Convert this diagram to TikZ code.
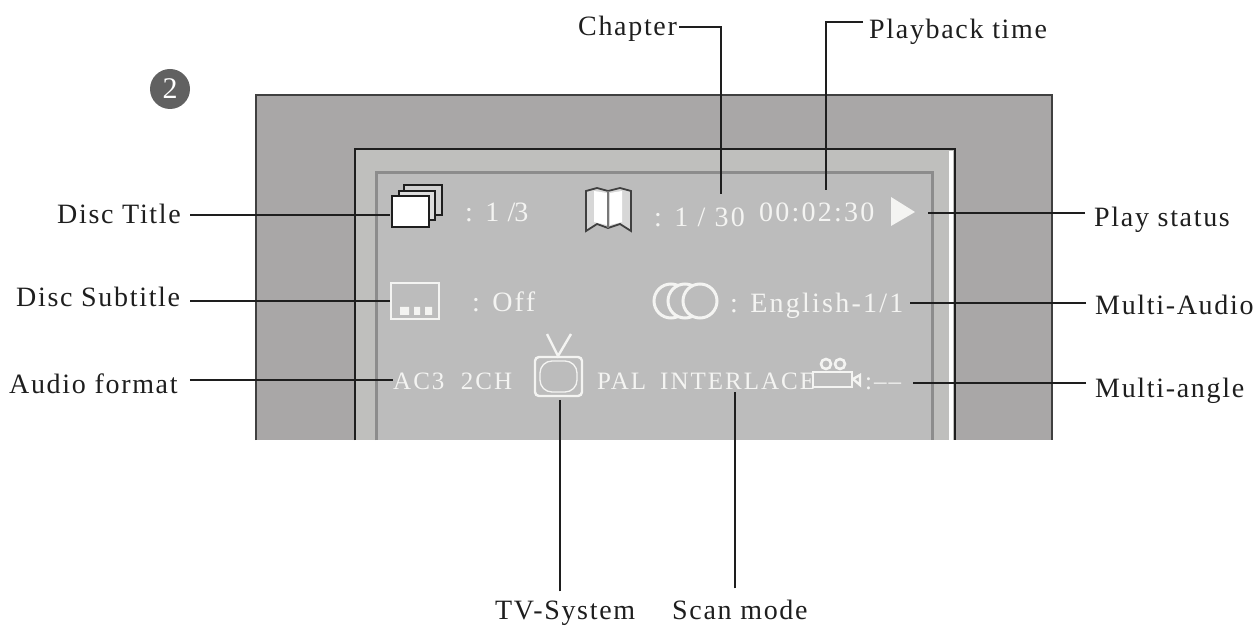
\documentclass[tikz,border=0pt]{standalone}
\usepackage{fontspec}
\setmainfont[LetterSpace=6]{Liberation Serif}
\newfontfamily\valfont[LetterSpace=8]{Liberation Serif}
\usetikzlibrary{calc}
\definecolor{frameg}{HTML}{A9A7A7}
\definecolor{screeng}{HTML}{BCBCBC}
\definecolor{ringg}{HTML}{BFBFBD}
\definecolor{lineg}{HTML}{8C8C8C}
\definecolor{ink}{HTML}{1E1E1E}
\definecolor{soft}{HTML}{F4F4F2}
\tikzset{
  lab/.style={anchor=base west,inner xsep=6pt,inner ysep=0pt,text=ink,font=\fontsize{28}{30}\selectfont},
  val/.style={anchor=base west,inner sep=0pt,text=soft,font=\valfont\fontsize{28}{30}\selectfont},
  valsmall/.style={val,font=\valfont\fontsize{25}{27}\selectfont},
  conn/.style={draw=ink,line width=1.8pt},
  icon/.style={draw=soft,line width=2.4pt},
  stack/.style={draw=ink,line width=1.9pt}
}
\begin{document}
\begin{tikzpicture}[x=1pt,y=-1pt]
\useasboundingbox (0,0) rectangle (1259,628);
% housing
\fill[frameg] (256,95) rectangle (1052,440);
\draw[ink!85,line width=1.5pt] (256,440) -- (256,95) -- (1052,95) -- (1052,440);
\fill[ringg] (355,149) rectangle (955,440);
\fill[screeng] (376,173) rectangle (932,440);
\draw[lineg,line width=3pt] (376,440) -- (376,173) -- (932,173) -- (932,440);
\draw[white,line width=4pt] (950.5,151) -- (950.5,440);
\draw[ink,line width=2.6pt] (355,440) -- (355,149) -- (955,149) -- (955,440);
% badge
\node[circle,fill=black!62,minimum size=40pt,inner sep=0pt,text=white,font=\fontsize{30}{30}\selectfont] (badge) at (170,89) {2};
% labels
\node[lab,inner xsep=2pt] (lchap) at (576,36) {Chapter};
\node[lab] (lplay) at (863,39) {Playback time};
\node[lab] (ltitle) at (51,224) {Disc Title};
\node[lab] (lsub) at (10,307) {Disc Subtitle};
\node[lab] (laud) at (3,393) {Audio format};
\node[lab] (lstat) at (1088,227) {Play status};
\node[lab] (lmaud) at (1089,315) {Multi-Audio};
\node[lab] (lmang) at (1089,397) {Multi-angle};
\node[lab] (ltv) at (489,619) {TV-System};
\node[lab] (lscan) at (666,619) {Scan mode};
% screen values
\node[val] (vtitle) at (465,222) {: 1 \kern-1pt/\kern-1pt3};
\node[val] (vchap) at (654,227) {: 1 / 30};
\node[val] (vtime) at (759,222) {00:02:30};
\node[val] (voff) at (472,312) {: Off};
\node[val] (veng) at (730,313) {: English-1/1};
\node[valsmall] (vac) at (393,389) {AC3\ \ 2CH};
\node[valsmall] (vpal) at (597,389) {PAL};
\node[valsmall] (vint) at (660,389) {INTERLACE};
\node[valsmall] (vang) at (865,389) {:–{}–};
% disc title icon
\draw[stack,fill=screeng!70!white] (404,185) rectangle (442,215);
\draw[stack,fill=screeng!50!white] (399,191) rectangle (435,220);
\draw[stack,fill=white] (392,196) rectangle (429,227);
\coordinate (ititle) at (390,215);
% book icon
\draw[ink!85,fill=screeng!60!white,line width=1.8pt] (586,191) -- (597,188) -- (608,191) -- (620,188) -- (631,191) -- (631,231) -- (620,224) -- (608,228) -- (597,224) -- (586,231) -- cycle;
\fill[white] (594,191) -- (607,193) -- (607,225) -- (594,222) -- cycle;
\fill[white] (610,193) -- (622,191) -- (622,222) -- (610,225) -- cycle;
\draw[ink!60,line width=1.2pt] (608,191) -- (608,228);
% subtitle icon
\draw[icon] (391,283) rectangle (439,319);
\fill[soft] (400,307) rectangle (409,315) (414,307) rectangle (420,315) (425,307) rectangle (432,315);
\coordinate (isub) at (390,301);
% audio circles
\draw[icon,line width=3pt] (671,301) circle[radius=17];
\draw[icon,line width=3pt,fill=screeng] (685,301) circle[radius=17];
\draw[icon,line width=3pt,fill=screeng] (700,301) circle[radius=17];
% TV icon
\draw[icon] (547,334) -- (558,356) -- (571,334);
\draw[icon,rounded corners=4pt] (535,357) rectangle (582,396);
\draw[icon,line width=1.3pt,rounded corners=12pt] (540,361) rectangle (577,392);
\coordinate (itv) at (560,400);
% camera icon
\draw[icon,fill=screeng,line width=2.8pt] (813,372) rectangle (852,387);
\draw[icon,line width=2.6pt] (826,364) circle[radius=5];
\draw[icon,line width=2.6pt] (840,364) circle[radius=5];
\draw[icon] (853,379) -- (860,375) -- (860,385) -- cycle;
% play triangle
\fill[soft] (891,197) -- (915,212) -- (891,226) -- cycle;
% connectors
\coordinate (cchap) at (721,194);
\coordinate (cplay) at (826,190);
\coordinate (cstat) at (928,213);
\coordinate (cmaud) at (910,303);
\coordinate (cmang) at (913,383);
\coordinate (cscan) at (735,392);
\draw[conn] (lchap.east |- 0,27) -| (cchap);
\draw[conn] (lplay.west |- 0,22) -| (cplay);
\draw[conn,shorten <=3pt] (ltitle.east |- ititle) -- (ititle);
\draw[conn,shorten <=4pt] (lsub.east |- isub) -- (isub);
\draw[conn,shorten <=6pt] (laud.east |- 0,380) -- (vac.west |- 0,380);
\draw[conn,shorten <=3pt] (lstat.west |- cstat) -- (cstat);
\draw[conn,shorten <=3pt] (lmaud.west |- cmaud) -- (cmaud);
\draw[conn,shorten <=3pt] (lmang.west |- cmang) -- (cmang);
\draw[conn,shorten <=9pt] (ltv.north -| itv) -- (itv);
\draw[conn,shorten <=11pt] (lscan.north -| cscan) -- (cscan);
\end{tikzpicture}
\end{document}
